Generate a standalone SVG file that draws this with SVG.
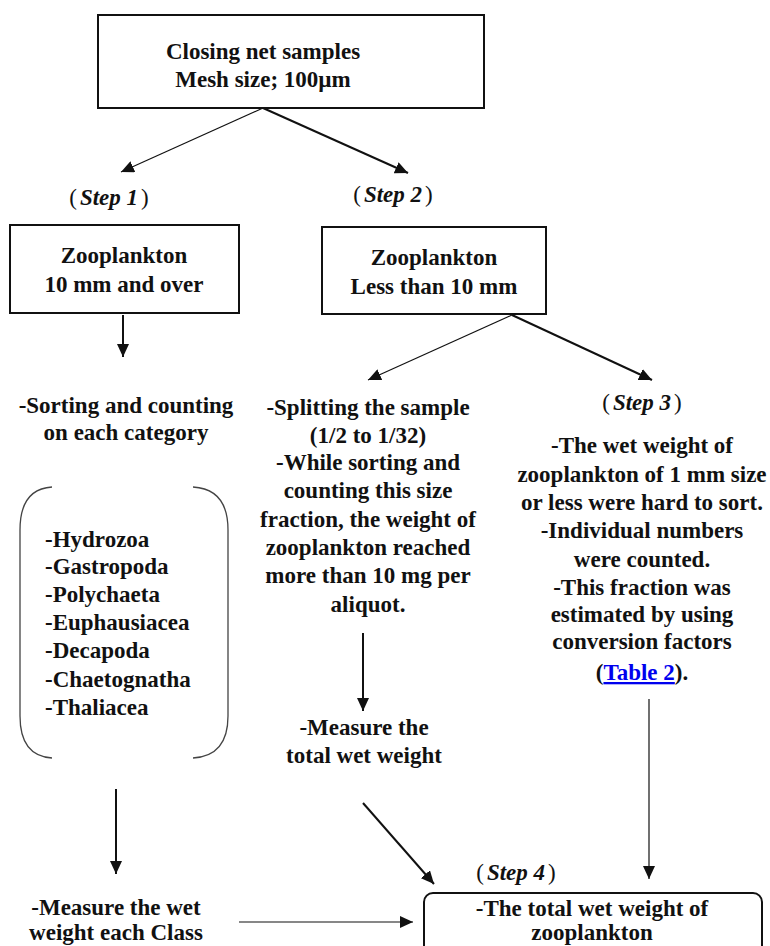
<svg xmlns="http://www.w3.org/2000/svg" width="770" height="946" viewBox="0 0 770 946">
<style>
text{font-family:"Liberation Serif","Times New Roman",serif;font-weight:bold;font-size:23px;fill:#111;text-anchor:middle}
.l{text-anchor:start}
.st{font-style:italic}
.pn{font-weight:normal}
.box{fill:#fff;stroke:#111;stroke-width:2}
.thin{stroke:#111;stroke-width:1.2;fill:none}
.thick{stroke:#111;stroke-width:2;fill:none}
.br{stroke:#444;stroke-width:1.3;fill:none}
.link{fill:#0000ee;text-decoration:underline}
</style>
<defs>
<marker id="ah" markerUnits="userSpaceOnUse" markerWidth="14" markerHeight="12" refX="13" refY="6" orient="auto">
<path d="M0,0 L13,6 L0,12 Z" fill="#111"/>
</marker>
</defs>
<rect width="770" height="946" fill="#fff"/>

<g id="connectors">
<line class="thin" x1="263" y1="108" x2="121" y2="172" marker-end="url(#ah)"/>
<line class="thick" x1="263" y1="108" x2="408" y2="173" marker-end="url(#ah)"/>
<line class="thick" x1="123" y1="315" x2="123" y2="357" marker-end="url(#ah)"/>
<line class="thin" x1="512" y1="315" x2="368" y2="380" marker-end="url(#ah)"/>
<line class="thick" x1="512" y1="315" x2="652" y2="380" marker-end="url(#ah)"/>
<line class="thick" x1="116" y1="789" x2="116" y2="874" marker-end="url(#ah)"/>
<line class="thin" x1="239" y1="922" x2="413" y2="922" marker-end="url(#ah)"/>
<line class="thick" x1="363" y1="633" x2="363" y2="711" marker-end="url(#ah)"/>
<line class="thick" x1="363" y1="803" x2="434" y2="884" marker-end="url(#ah)"/>
<line class="thin" x1="649" y1="699" x2="649" y2="879" marker-end="url(#ah)"/>
</g>

<g id="node-top">
<rect class="box" x="98" y="15" width="386" height="93"/>
<text x="263" y="59">Closing net samples</text>
<text x="263" y="87">Mesh size; 100µm</text>
</g>

<g id="label-step1">
<text x="109" y="205"><tspan class="pn">(</tspan><tspan class="st" dx="3">Step 1</tspan><tspan class="pn" dx="3">)</tspan></text>
</g>
<g id="label-step2">
<text x="393" y="202"><tspan class="pn">(</tspan><tspan class="st" dx="3">Step 2</tspan><tspan class="pn" dx="3">)</tspan></text>
</g>

<g id="node-step1">
<rect class="box" x="10" y="225" width="229" height="88"/>
<text x="124" y="263">Zooplankton</text>
<text x="124" y="292">10 mm and over</text>
</g>

<g id="node-step2">
<rect class="box" x="322" y="227" width="224" height="87"/>
<text x="434" y="265">Zooplankton</text>
<text x="434" y="294">Less than 10 mm</text>
</g>

<g id="node-sorting">
<text x="126" y="413">-Sorting and counting</text>
<text x="126" y="440">on each category</text>
</g>

<g id="node-categories">
<path class="br" d="M52,487 Q20,489 20,530 L20,716 Q20,756 52,758"/>
<path class="br" d="M193,487 Q228,489 228,530 L228,716 Q228,756 193,758"/>
<text class="l" x="45" y="547">-Hydrozoa</text>
<text class="l" x="45" y="574">-Gastropoda</text>
<text class="l" x="45" y="602">-Polychaeta</text>
<text class="l" x="45" y="630">-Euphausiacea</text>
<text class="l" x="45" y="658">-Decapoda</text>
<text class="l" x="45" y="687">-Chaetognatha</text>
<text class="l" x="45" y="715">-Thaliacea</text>
</g>

<g id="node-splitting">
<text x="368" y="415">-Splitting the sample</text>
<text x="368" y="443">(1/2 to 1/32)</text>
<text x="368" y="470">-While sorting and</text>
<text x="368" y="498">counting this size</text>
<text x="368" y="527">fraction, the weight of</text>
<text x="368" y="555">zooplankton reached</text>
<text x="368" y="583">more than 10 mg per</text>
<text x="368" y="612">aliquot.</text>
</g>

<g id="node-step3">
<text x="642" y="410"><tspan class="pn">(</tspan><tspan class="st" dx="3">Step 3</tspan><tspan class="pn" dx="3">)</tspan></text>
<text x="642" y="453">-The wet weight of</text>
<text x="642" y="482">zooplankton of 1 mm size</text>
<text x="642" y="510">or less were hard to sort.</text>
<text x="642" y="538">-Individual numbers</text>
<text x="642" y="567">were counted.</text>
<text x="642" y="595">-This fraction was</text>
<text x="642" y="622">estimated by using</text>
<text x="642" y="649">conversion factors</text>
<text x="642" y="680">(<tspan class="link">Table 2</tspan>).</text>
</g>

<g id="node-measure-total">
<text x="364" y="735">-Measure the</text>
<text x="364" y="763">total wet weight</text>
</g>

<g id="node-measure-class">
<text x="116" y="915">-Measure the wet</text>
<text x="116" y="940">weight each Class</text>
</g>

<g id="node-step4">
<text x="516" y="880"><tspan class="pn">(</tspan><tspan class="st" dx="3">Step 4</tspan><tspan class="pn" dx="3">)</tspan></text>
<rect class="box" x="424" y="893" width="338" height="70" rx="9"/>
<text x="592" y="916">-The total wet weight of</text>
<text x="592" y="940">zooplankton</text>
</g>
</svg>
